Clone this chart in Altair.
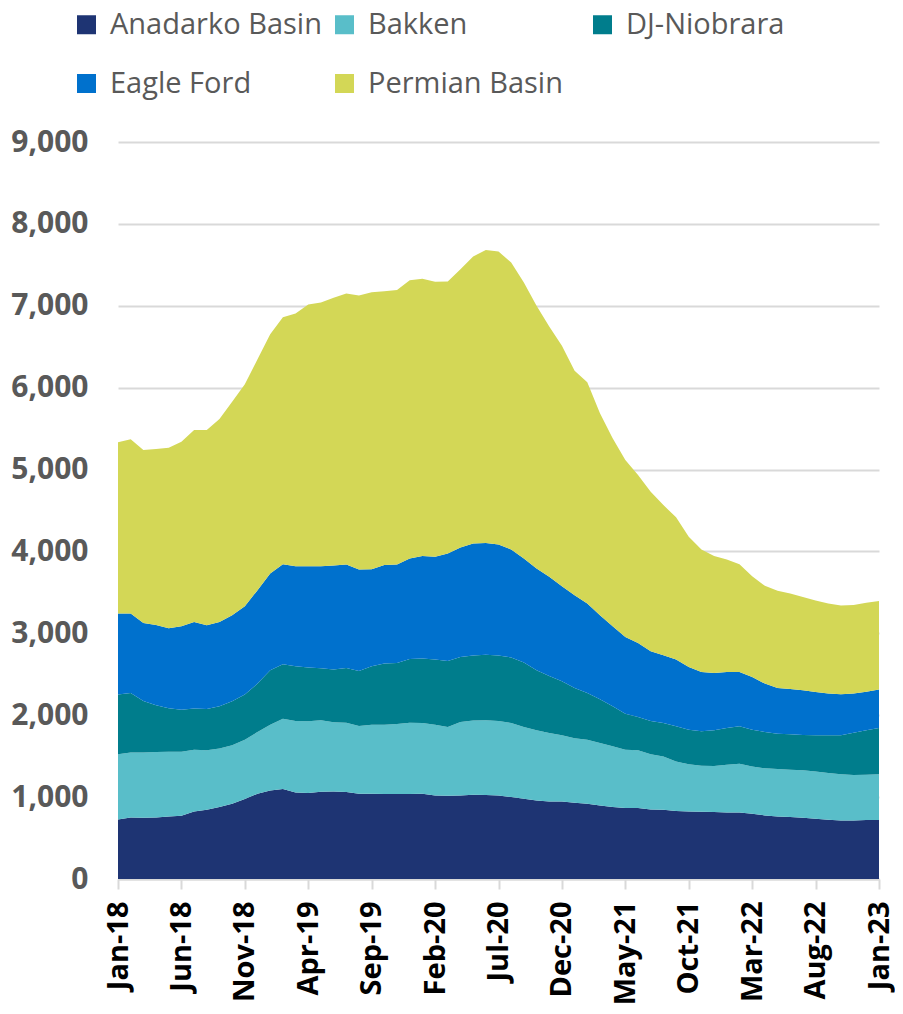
import altair as alt
import pandas as pd

month_names = ["Jan", "Feb", "Mar", "Apr", "May", "Jun",
               "Jul", "Aug", "Sep", "Oct", "Nov", "Dec"]
months = [f"{m}-{y}" for y in range(18, 23) for m in month_names] + ["Jan-23"]

tick_labels = ["Jan-18", "Jun-18", "Nov-18", "Apr-19", "Sep-19", "Feb-20", "Jul-20",
               "Dec-20", "May-21", "Oct-21", "Mar-22", "Aug-22", "Jan-23"]

basins = ["Anadarko Basin", "Bakken", "DJ-Niobrara", "Eagle Ford", "Permian Basin"]
colors = ["#1E3473", "#59BEC9", "#007D8C", "#0071CD", "#D3D756"]

anadarko = [727, 752, 748, 752, 764, 772, 825, 846, 878, 919, 976, 1042,
            1082, 1098, 1057, 1049, 1066, 1070, 1062, 1042, 1042, 1037, 1037, 1037,
            1042, 1021, 1017, 1021, 1029, 1025, 1019, 1000, 980, 960, 947, 947,
            931, 919, 898, 878, 866, 866, 850, 846, 829, 825, 821, 817,
            813, 813, 797, 776, 764, 756, 748, 736, 723, 715, 715, 719,
            719]
bakken = [795, 794, 798, 798, 791, 783, 754, 725, 717, 713, 726, 753,
          803, 860, 872, 876, 872, 843, 847, 826, 843, 848, 856, 872,
          863, 864, 839, 896, 906, 913, 910, 905, 876, 855, 835, 807,
          787, 783, 762, 742, 713, 705, 672, 651, 607, 575, 563, 563,
          583, 595, 578, 575, 579, 579, 579, 578, 571, 563, 555, 555,
          559]
dj_niobrara = [730, 725, 628, 571, 529, 513, 502, 505, 514, 538, 550, 591,
               664, 664, 669, 657, 636, 644, 669, 673, 713, 746, 746, 778,
               787, 795, 807, 795, 795, 800, 801, 799, 787, 734, 698, 661,
               615, 569, 534, 489, 440, 407, 407, 408, 428, 424, 419, 435,
               448, 456, 449, 444, 432, 432, 431, 440, 460, 476, 517, 541,
               566]
eagle_ford = [990, 971, 953, 982, 978, 1019, 1058, 1023, 1030, 1051, 1079, 1141,
              1182, 1223, 1222, 1238, 1246, 1271, 1262, 1239, 1186, 1202, 1201, 1227,
              1251, 1255, 1313, 1337, 1368, 1364, 1356, 1320, 1271, 1243, 1210, 1161,
              1133, 1093, 1027, 978, 937, 905, 852, 827, 816, 765, 725, 701,
              684, 664, 643, 591, 558, 553, 546, 530, 510, 501, 477, 473,
              469]
permian = [2091, 2127, 2111, 2147, 2204, 2253, 2344, 2384, 2478, 2608, 2710, 2820,
           2922, 3016, 3085, 3195, 3219, 3269, 3309, 3345, 3382, 3345, 3354, 3399,
           3386, 3357, 3320, 3398, 3504, 3578, 3577, 3504, 3370, 3208, 3056, 2937,
           2742, 2702, 2466, 2294, 2160, 2050, 1948, 1834, 1737, 1589, 1496, 1427,
           1374, 1317, 1231, 1194, 1186, 1167, 1141, 1117, 1100, 1085, 1083, 1084,
           1083]

series = [anadarko, bakken, dj_niobrara, eagle_ford, permian]
rows = []
for k, (name, vals) in enumerate(zip(basins, series)):
    for m, v in zip(months, vals):
        rows.append({"month": m, "basin": name, "value": v, "order": k})
df = pd.DataFrame(rows)

chart = alt.Chart(df).mark_area().encode(
    x=alt.X("month:O", sort=months, title=None,
            scale=alt.Scale(type="point", padding=0),
            axis=alt.Axis(values=tick_labels, labelAngle=-90, grid=False,
                          domainColor="#d9d9d9", domainWidth=2,
                          tickColor="#d9d9d9", tickWidth=2, tickSize=10,
                          labelFont="Open Sans", labelFontSize=29,
                          labelFontWeight="bold", labelColor="#000000",
                          labelPadding=12, labelOverlap=False, labelBound=False)),
    y=alt.Y("value:Q", stack="zero", title=None,
            scale=alt.Scale(domain=[0, 9000], nice=False),
            axis=alt.Axis(values=list(range(0, 9001, 1000)), format=",.0f",
                          domain=False, ticks=False, gridColor="#d9d9d9",
                          gridWidth=2, labelFont="Open Sans", labelFontSize=30,
                          labelFontWeight="bold", labelColor="#595959",
                          labelPadding=30)),
    color=alt.Color("basin:N", sort=basins,
                    scale=alt.Scale(domain=basins, range=colors),
                    legend=alt.Legend(title=None, orient="none", legendX=-46,
                                      legendY=-132, columns=3, direction="horizontal",
                                      gridAlign="all",
                                      symbolType="square", symbolSize=361,
                                      symbolStrokeWidth=0, labelFont="Open Sans",
                                      labelFontSize=29, labelColor="#595959",
                                      labelOffset=9, columnPadding=8,
                                      rowPadding=29, labelLimit=400, padding=0)),
    order=alt.Order("order:Q", sort="ascending"),
).properties(
    width=761, height=737,
    padding={"left": 110, "top": 134, "right": 16, "bottom": 130},
    autosize="none",
).configure_view(stroke=None)

chart.save("out.html", embed_options={"renderer": "svg", "actions": False})
